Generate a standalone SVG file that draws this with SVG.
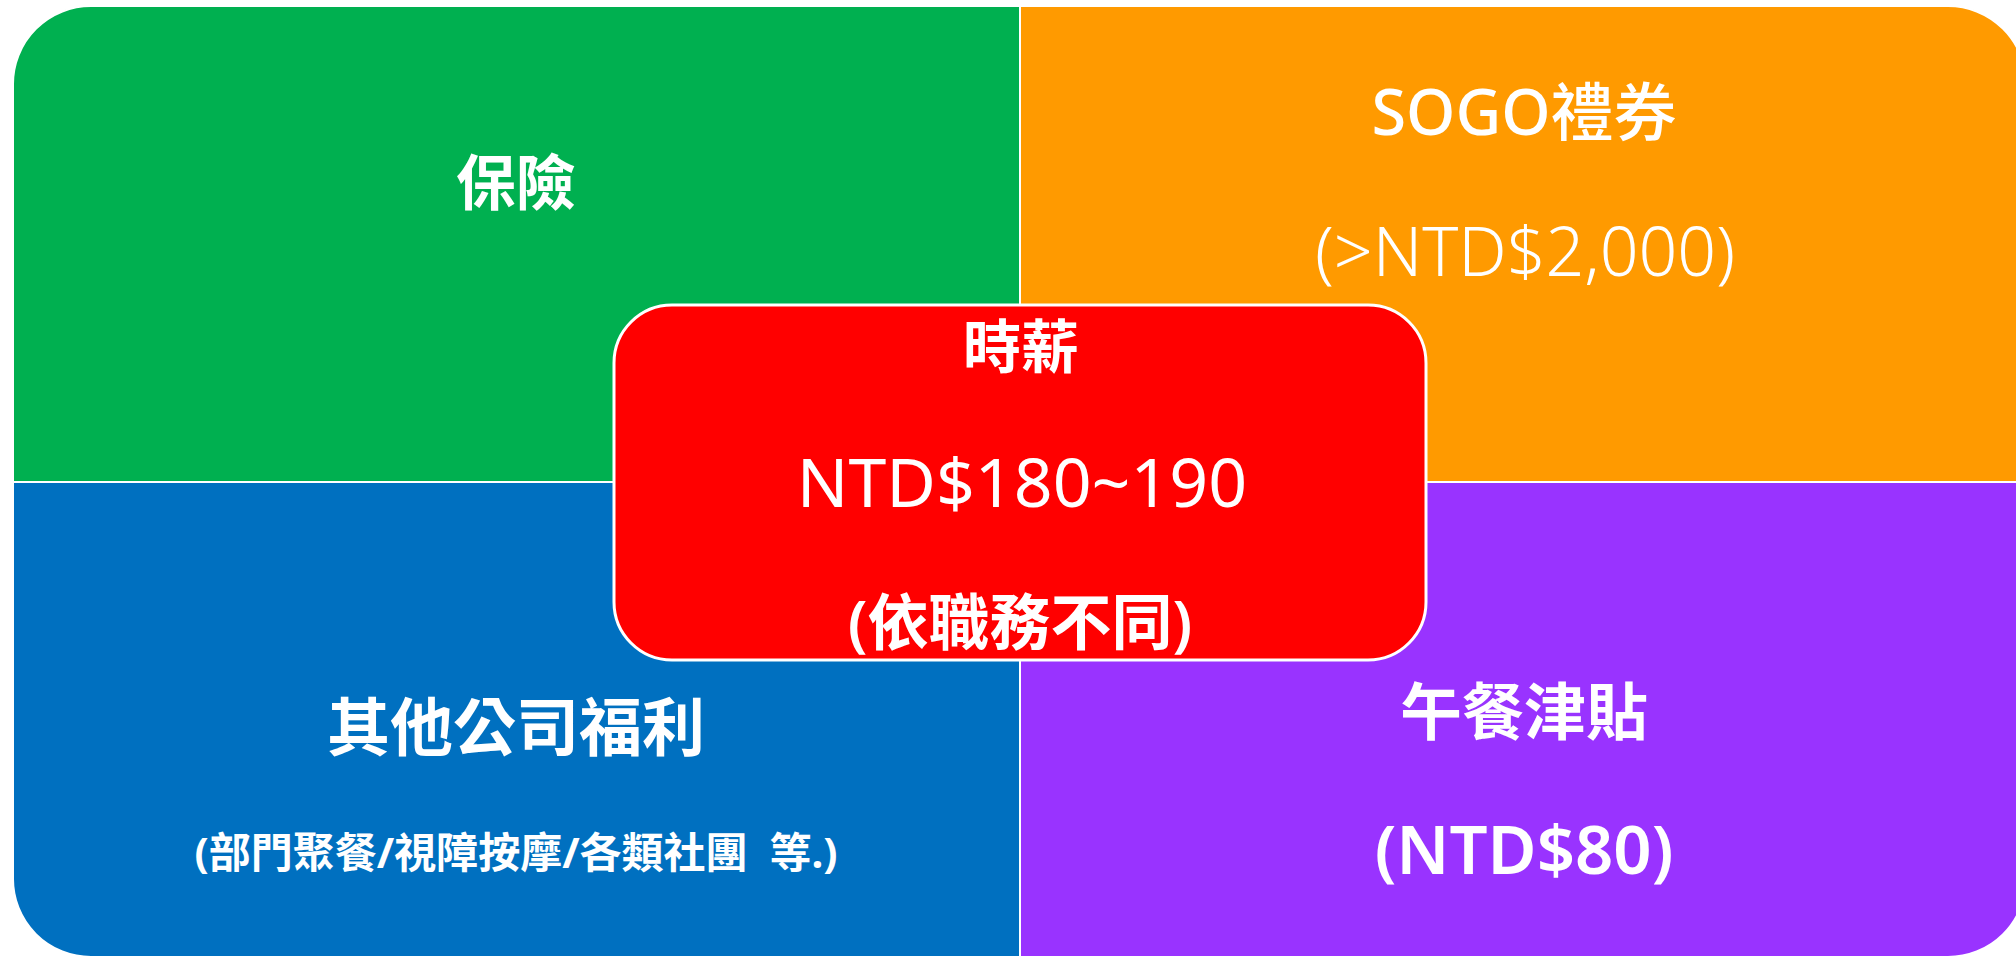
<svg xmlns="http://www.w3.org/2000/svg" width="2016" height="959" viewBox="0 0 2016 959">
<style>
.q{stroke:#FFFFFF;stroke-width:2}
.t{fill:#FFFFFF;font-family:"Noto Sans","Noto Sans CJK TC",sans-serif;text-anchor:middle}
.b{font-weight:bold}
.s{font-weight:600}
.m{font-weight:500}
.n{font-weight:normal}
.l{font-weight:300}
</style>
<rect width="2016" height="959" fill="#FFFFFF"/>
<g id="quadrant-insurance">
<path class="q" fill="#00B050" d="M13,84 A78,78 0 0 1 91,6 H1020 V482 H13 Z"/>
<text class="t b" x="516" y="205" font-size="60">保險</text>
</g>
<g id="quadrant-sogo">
<path class="q" fill="#FF9A00" d="M1020,6 H1948 A78,78 0 0 1 2026,84 V482 H1020 Z"/>
<text class="t m" x="1524" y="135" font-size="63">SOGO禮券</text>
<text class="t l" x="1525" y="276" font-size="68">(&gt;NTD$2,000)</text>
</g>
<g id="quadrant-other">
<path class="q" fill="#0070C0" d="M13,482 H1020 V957 H91 A78,78 0 0 1 13,879 Z"/>
<text class="t b" x="516" y="750" font-size="63">其他公司福利</text>
<text class="t b" x="516" y="868" font-size="42" xml:space="preserve">(部門聚餐/視障按摩/各類社團  等.)</text>
</g>
<g id="quadrant-lunch">
<path class="q" fill="#9933FF" d="M1020,482 H2026 V879 A78,78 0 0 1 1948,957 H1020 Z"/>
<text class="t b" x="1524" y="735" font-size="62">午餐津貼</text>
<text class="t s" x="1524" y="874" font-size="67">(NTD$80)</text>
</g>
<g id="center-wage">
<rect x="614" y="305" width="812" height="355" rx="58" ry="58" fill="#FF0000" stroke="#FFFFFF" stroke-width="3"/>
<text class="t b" x="1021" y="368" font-size="58">時薪</text>
<text class="t n" x="1022" y="507" font-size="68">NTD$180~190</text>
<text class="t s" x="1020" y="645" font-size="61">(依職務不同)</text>
</g>
<g id="connectors"></g>
</svg>
